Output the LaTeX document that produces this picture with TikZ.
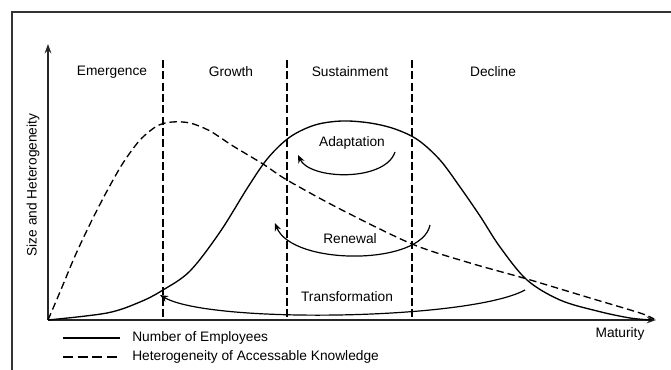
\documentclass[tikz,border=0pt]{standalone}
\usepackage{fontspec}
\setmainfont{Liberation Sans}
\usetikzlibrary{arrows.meta}
\begin{document}
\begin{tikzpicture}[x=0.75pt,y=-0.75pt,
  lbl/.style={font=\fontsize{10.3}{12}\selectfont, inner sep=0pt},
  axisline/.style={line width=1.6pt, black!85, -{Stealth[length=7pt,width=5pt]}},
  curve/.style={line width=1pt},
  dcurve/.style={line width=1pt, dash pattern=on 5.5pt off 3pt},
  sep/.style={line width=0.9pt, dash pattern=on 6pt off 2.5pt},
  cyc/.style={line width=0.9pt, -{Stealth[length=6pt,width=5pt]}}]
\useasboundingbox (0,0) rectangle (671,370);
% frame
\draw[line width=1pt, black!80] (12,372) -- (12,12) -- (673,12);
% axes
\coordinate (O) at (48,320);
\coordinate (Ytop) at (48,44);
\coordinate (Xend) at (656,320);
\draw[axisline] (O) -- (Ytop);
\draw[axisline] (O) -- (Xend);
% phase separators
\foreach \x/\n in {163/s1,287/s2,412/s3}{
  \coordinate (\n t) at (\x,60);
  \coordinate (\n b) at (\x,320);
  \draw[sep] (\n t) -- (\n b);
}
% phase labels
\node[lbl] (em) at (112,72) {Emergence};
\node[lbl] (gr) at (231,72) {Growth};
\node[lbl] (su) at (350,72) {Sustainment};
\node[lbl] (de) at (493,72) {Decline};
% y label
\node[lbl, rotate=90] (ylab) at (33,185) {Size and Heterogeneity};
\node[lbl] (mat) at (620,334) {Maturity};
% number of employees
\draw[curve] plot[smooth, tension=0.55] coordinates {
 (48,320) (107,313) (140,302) (163,290) (190,271) (220,232) (248,187)
 (268,158) (290,137) (315,125) (342,121) (370,123) (395,129) (418,140)
 (440,160) (460,187) (480,216) (500,247) (527,280) (560,300) (597,311) (630,318) (652,320)};
% heterogeneity
\draw[dcurve] plot[smooth, tension=0.5] coordinates {
 (48,320) (60,292) (75,256) (91,222) (107,191) (123,163) (140,140) (157,126)
 (172,122) (190,123) (210,131) (233,146) (263,164) (287,180) (340,209)
 (412,244) (470,263) (527,279) (590,298) (640,313) (654,319)};
% cycles
\coordinate (a1) at (395,152); \coordinate (a2) at (298,155);
\draw[cyc] (a1) .. controls (385,182) and (310,180) .. (a2);
\node[lbl] (ad) at (352,143) {Adaptation};
\coordinate (r1) at (430,225); \coordinate (r2) at (275,223);
\draw[cyc] (r1) .. controls (422,266) and (292,266) .. (r2);
\node[lbl] (re) at (350,239) {Renewal};
\coordinate (t1) at (525,290); \coordinate (t2) at (160,295);
\draw[cyc] (t1) .. controls (470,320) and (210,324) .. (t2);
\node[lbl] (tr) at (347,297) {Transformation};
% legend
\coordinate (l1a) at (63,338); \coordinate (l1b) at (120,338);
\coordinate (l2a) at (63,357); \coordinate (l2b) at (120,357);
\draw[curve] (l1a) -- (l1b);
\draw[line width=1pt, dash pattern=on 7.5pt off 3.5pt] (l2a) -- (l2b);
\node[lbl, anchor=west] (leg1) at (132,338) {Number of Employees};
\node[lbl, anchor=west] (leg2) at (132,357) {Heterogeneity of Accessable Knowledge};
\end{tikzpicture}
\end{document}
